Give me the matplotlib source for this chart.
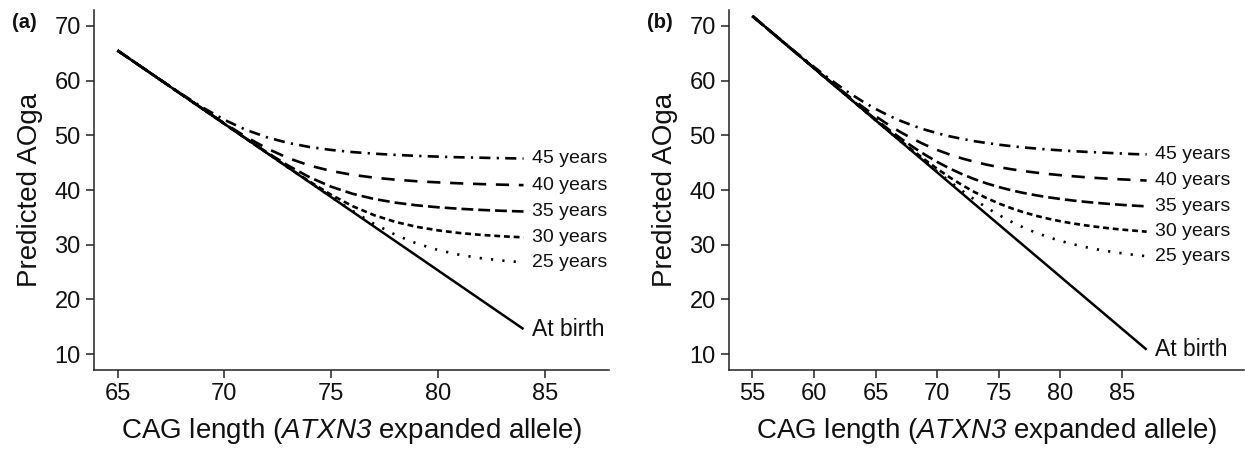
import matplotlib
matplotlib.use("Agg")
import matplotlib.pyplot as plt

plt.rcParams['font.family'] = ['Liberation Sans', 'DejaVu Sans']
plt.rcParams['mathtext.fontset'] = 'custom'
plt.rcParams['mathtext.rm'] = 'Liberation Sans:italic'
plt.rcParams['mathtext.it'] = 'Liberation Sans:italic'
plt.rcParams['lines.scale_dashes'] = False

# ---------------- data: panel (a) ----------------
cag_a = [65, 66, 67, 68, 69, 70, 71, 72, 73, 74, 75, 76, 77, 78, 79, 80, 81, 82, 83, 84]
birth_a = [65.5, 62.82, 60.14, 57.46, 54.78, 52.10, 49.42, 46.74, 44.06, 41.38,
           38.70, 36.02, 33.34, 30.66, 27.98, 25.30, 22.62, 19.94, 17.26, 14.58]
y25_a = [65.5, 62.82, 60.14, 57.46, 54.78, 52.10, 49.42, 46.74, 44.06, 41.39,
         38.74, 36.18, 33.83, 31.82, 30.22, 29.03, 28.16, 27.54, 27.10, 26.77]
y30_a = [65.5, 62.82, 60.14, 57.46, 54.78, 52.10, 49.42, 46.75, 44.09, 41.52,
         39.12, 37.05, 35.41, 34.17, 33.27, 32.62, 32.14, 31.80, 31.54, 31.34]
y35_a = [65.5, 62.82, 60.14, 57.46, 54.78, 52.10, 49.45, 46.86, 44.43, 42.31,
         40.60, 39.31, 38.37, 37.69, 37.20, 36.84, 36.57, 36.36, 36.20, 36.07]
y40_a = [65.5, 62.82, 60.14, 57.46, 54.80, 52.20, 49.74, 47.58, 45.81, 44.46,
         43.47, 42.77, 42.26, 41.89, 41.60, 41.39, 41.22, 41.08, 40.97, 40.89]
y45_a = [65.5, 62.82, 60.16, 57.54, 55.05, 52.83, 51.01, 49.62, 48.59, 47.85,
         47.32, 46.93, 46.64, 46.42, 46.24, 46.10, 45.98, 45.90, 45.82, 45.75]

# ---------------- data: panel (b) ----------------
cag_b = list(range(55, 88))
birth_b = [71.80, 69.89, 67.99, 66.08, 64.18, 62.27, 60.36, 58.46, 56.55, 54.65, 52.74,
           50.83, 48.93, 47.02, 45.12, 43.21, 41.30, 39.40, 37.49, 35.59, 33.68, 31.77,
           29.87, 27.96, 26.06, 24.15, 22.24, 20.34, 18.43, 16.53, 14.62, 12.72, 10.81]
y25_b = [71.80, 69.89, 67.99, 66.08, 64.18, 62.27, 60.36, 58.46, 56.55, 54.65, 52.74,
         50.83, 48.95, 47.06, 45.21, 43.37, 41.59, 39.90, 38.29, 36.80, 35.44, 34.22,
         33.15, 32.21, 31.40, 30.70, 30.10, 29.58, 29.14, 28.76, 28.43, 28.14, 27.90]
y30_b = [71.80, 69.89, 67.99, 66.08, 64.18, 62.27, 60.36, 58.46, 56.55, 54.66, 52.77,
         50.89, 49.06, 47.25, 45.52, 43.87, 42.33, 40.93, 39.65, 38.53, 37.54, 36.68,
         35.94, 35.30, 34.76, 34.29, 33.89, 33.55, 33.25, 32.99, 32.76, 32.57, 32.38]
y35_b = [71.80, 69.89, 67.99, 66.08, 64.18, 62.27, 60.37, 58.48, 56.60, 54.75, 52.93,
         51.17, 49.49, 47.91, 46.46, 45.13, 43.95, 42.91, 42.00, 41.21, 40.54, 39.96,
         39.46, 39.04, 38.67, 38.36, 38.08, 37.84, 37.63, 37.45, 37.28, 37.14, 37.01]
y40_b = [71.80, 69.89, 67.99, 66.09, 64.20, 62.31, 60.44, 58.61, 56.82, 55.11, 53.49,
         51.98, 50.61, 49.37, 48.28, 47.32, 46.49, 45.78, 45.17, 44.64, 44.19, 43.80,
         43.47, 43.18, 42.93, 42.71, 42.52, 42.34, 42.19, 42.05, 41.94, 41.83, 41.73]
y45_b = [71.80, 69.90, 68.02, 66.14, 64.30, 62.49, 60.74, 59.09, 57.53, 56.11, 54.82,
         53.67, 52.66, 51.79, 51.03, 50.38, 49.82, 49.35, 48.93, 48.59, 48.28, 48.02,
         47.78, 47.59, 47.40, 47.25, 47.11, 46.98, 46.88, 46.77, 46.67, 46.56, 46.51]

labels = ["At birth", "25 years", "30 years", "35 years", "40 years", "45 years"]
yticks = [10, 20, 30, 40, 50, 60, 70]
xticks_a = [65, 70, 75, 80, 85]
xticks_b = [55, 60, 65, 70, 75, 80, 85]

# styles
styles = [
    dict(ls='-'),
    dict(dashes=(1.6, 6.6)),
    dict(dashes=(4.2, 2.8)),
    dict(dashes=(8.5, 3.6)),
    dict(dashes=(9.5, 7.0)),
    dict(dashes=(8.0, 4.5, 1.6, 4.5)),
]
lws = [1.8, 1.9, 1.9, 1.9, 1.9, 1.9]
label_sizes = [16.5, 14, 14, 14, 14, 14]

fig = plt.figure(figsize=(12.45, 4.51), dpi=100)
W, H = 1245, 451
ax_a = fig.add_axes([94 / W, 1 - 370 / H, (609 - 94) / W, 360 / H])
ax_b = fig.add_axes([729 / W, 1 - 370 / H, (1244 - 729) / W, 360 / H])

ink = '#111111'

def setup(ax, x, series, xticks, xlim):
    for ys, lab, st, lw, fs in zip(series, labels, styles, lws, label_sizes):
        ax.plot(x, ys, color='black', lw=lw, solid_capstyle='butt', **st)
        ax.annotate(lab, xy=(x[-1], ys[-1]), xytext=(6, 0), textcoords='offset points',
                    ha='left', va='center', fontsize=fs, color=ink)
    ax.set_xlim(*xlim)
    ax.set_ylim(7.1, 72.9)
    ax.set_xticks(xticks)
    ax.set_yticks(yticks)
    for s in ['top', 'right']:
        ax.spines[s].set_visible(False)
    for s in ['left', 'bottom']:
        ax.spines[s].set_linewidth(1.1)
        ax.spines[s].set_color('#222222')
    ax.tick_params(axis='both', length=5.5, width=1.1, color='#222222',
                   labelsize=17, labelcolor=ink, pad=4)
    ax.set_ylabel('Predicted AOga', fontsize=20, color=ink, labelpad=8)
    ax.set_xlabel(r'CAG length ($\mathrm{ATXN3}$ expanded allele)', fontsize=20,
                  color=ink, labelpad=8)

setup(ax_a, cag_a, [birth_a, y25_a, y30_a, y35_a, y40_a, y45_a], xticks_a, (63.9, 88.0))
setup(ax_b, cag_b, [birth_b, y25_b, y30_b, y35_b, y40_b, y45_b], xticks_b, (53.1, 94.9))

fig.text(12 / W, 1 - 22 / H, '(a)', fontsize=14.5, fontweight='bold', va='center', ha='left', color=ink)
fig.text(647 / W, 1 - 22 / H, '(b)', fontsize=14.5, fontweight='bold', va='center', ha='left', color=ink)

fig.savefig('out.png', dpi=100)
